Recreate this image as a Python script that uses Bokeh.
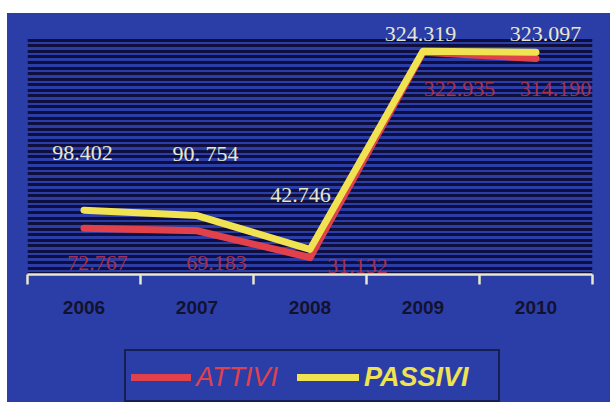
import numpy as np
from bokeh.plotting import figure
from bokeh.models import (Range1d, FixedTicker, Legend, LegendItem,
                          ColumnDataSource, Spacer)
from bokeh.layouts import column, row
from bokeh.core.properties import value
from bokeh.embed import file_html
from bokeh.resources import INLINE

# ---- data ----
years = ["2006", "2007", "2008", "2009", "2010"]
attivi = [72.767, 69.183, 31.132, 322.935, 314.190]
passivi = [98.402, 90.754, 42.746, 324.319, 323.097]
attivi_labels = ["72.767", "69.183", "31.132", "322.935", "314.190"]
passivi_labels = ["98.402", "90. 754", "42.746", "324.319", "323.097"]

# ---- styling ----
BLUE = "#2b3ea8"
STRIPE = "#0e0f3e"
YELLOW = "#f0e250"
RED = "#e0414b"
CREAM = "#e8e8cc"
LBLRED = "#a8304c"

xs = [i + 0.5 for i in range(len(years))]

p = figure(width=603, height=322, output_backend="svg", toolbar_location=None,
           x_range=Range1d(0, len(years)), y_range=Range1d(7, 371),
           min_border_left=20, min_border_right=18, min_border_top=5,
           min_border_bottom=61)
p.border_fill_color = BLUE
p.background_fill_color = BLUE
p.outline_line_color = None

p.yaxis.visible = False
p.xgrid.visible = False
p.ygrid.ticker = FixedTicker(ticks=list(np.arange(340, 6, -7.9)))
p.ygrid.grid_line_color = STRIPE
p.ygrid.grid_line_width = 3

ax = p.xaxis[0]
ax.ticker = FixedTicker(ticks=xs, minor_ticks=list(range(len(years) + 1)))
ax.major_label_overrides = {x: y for x, y in zip(xs, years)}
ax.axis_line_color = CREAM
ax.axis_line_width = 2.5
ax.major_tick_line_color = None
ax.major_tick_out = 0
ax.major_tick_in = 0
ax.minor_tick_line_color = CREAM
ax.minor_tick_line_width = 2.5
ax.minor_tick_out = 10
ax.minor_tick_in = 0
ax.major_label_standoff = 16
ax.major_label_text_font = "Liberation Sans"
ax.major_label_text_font_style = "bold"
ax.major_label_text_font_size = "19px"
ax.major_label_text_color = "#12122e"

src = ColumnDataSource(dict(x=xs, a=attivi, p=passivi,
                            al=attivi_labels, pl=passivi_labels,
                            adx=[13.5, 19.5, 47.5, 36.5, 19.5],
                            ady=[35, 32, 8, 37, 31],
                            pdx=[-1.5, 8.5, -9.5, -2.5, 9.5],
                            pdy=[-57, -62, -54, -17, -18]))

p.line("x", "a", source=src, line_color=RED, line_width=7,
       line_join="round", line_cap="round")
p.line("x", "p", source=src, line_color=YELLOW, line_width=7,
       line_join="round", line_cap="round")

p.text("x", "a", text="al", source=src, x_offset="adx", y_offset="ady",
       text_align="center", text_baseline="middle",
       text_font=value("Liberation Serif"), text_font_size="22px",
       text_color=LBLRED)
p.text("x", "p", text="pl", source=src, x_offset="pdx", y_offset="pdy",
       text_align="center", text_baseline="middle",
       text_font=value("Liberation Serif"), text_font_size="22px",
       text_color=CREAM)

# ---- legend strip ----
q = figure(width=603, height=67, output_backend="svg", toolbar_location=None,
           x_range=Range1d(0, 1), y_range=Range1d(0, 1),
           x_axis_location=None, y_axis_location=None,
           min_border_left=0, min_border_right=0, min_border_top=0,
           min_border_bottom=0)
q.border_fill_color = BLUE
q.background_fill_color = BLUE
q.outline_line_color = None
q.xgrid.visible = False
q.ygrid.visible = False

# series drawn out of this strip's range: only their legend glyphs show
dummy = q.line(x=xs, y=attivi, line_alpha=0)
k_a = q.line(x=xs, y=attivi, line_color=RED, line_width=7, line_cap="round")
k_p = q.line(x=xs, y=passivi, line_color=YELLOW, line_width=7, line_cap="round")

box = Legend(items=[LegendItem(label="", renderers=[dummy])],
             location=(97, 0), padding=0, margin=0,
             glyph_width=372, glyph_height=49, label_standoff=0,
             label_width=0, label_height=49, label_text_font_size="1px",
             border_line_color="black", border_line_width=2,
             background_fill_color=BLUE, background_fill_alpha=1)
q.add_layout(box, "center")

leg_a = Legend(items=[LegendItem(label="ATTIVI", renderers=[k_a])],
               location=(104, 9), padding=0, margin=0,
               glyph_width=60, glyph_height=32, label_standoff=5,
               label_height=32,
               label_text_font="Liberation Sans", label_text_font_size="27px",
               label_text_font_style="italic", label_text_color=RED,
               border_line_color=None, background_fill_alpha=0)
q.add_layout(leg_a, "center")

leg_p = Legend(items=[LegendItem(label="PASSIVI", renderers=[k_p])],
               location=(270, 9), padding=0, margin=0,
               glyph_width=62, glyph_height=32, label_standoff=5,
               label_height=32,
               label_text_font="Liberation Sans", label_text_font_size="27px",
               label_text_font_style="bold italic", label_text_color=YELLOW,
               border_line_color=None, background_fill_alpha=0)
q.add_layout(leg_p, "center")

inner = column(p, q, spacing=0, styles={"background-color": BLUE})
layout = column(Spacer(width=610, height=13),
                row(Spacer(width=7, height=389), inner, spacing=0),
                spacing=0)
open("out.html", "w").write(file_html(layout, INLINE))
